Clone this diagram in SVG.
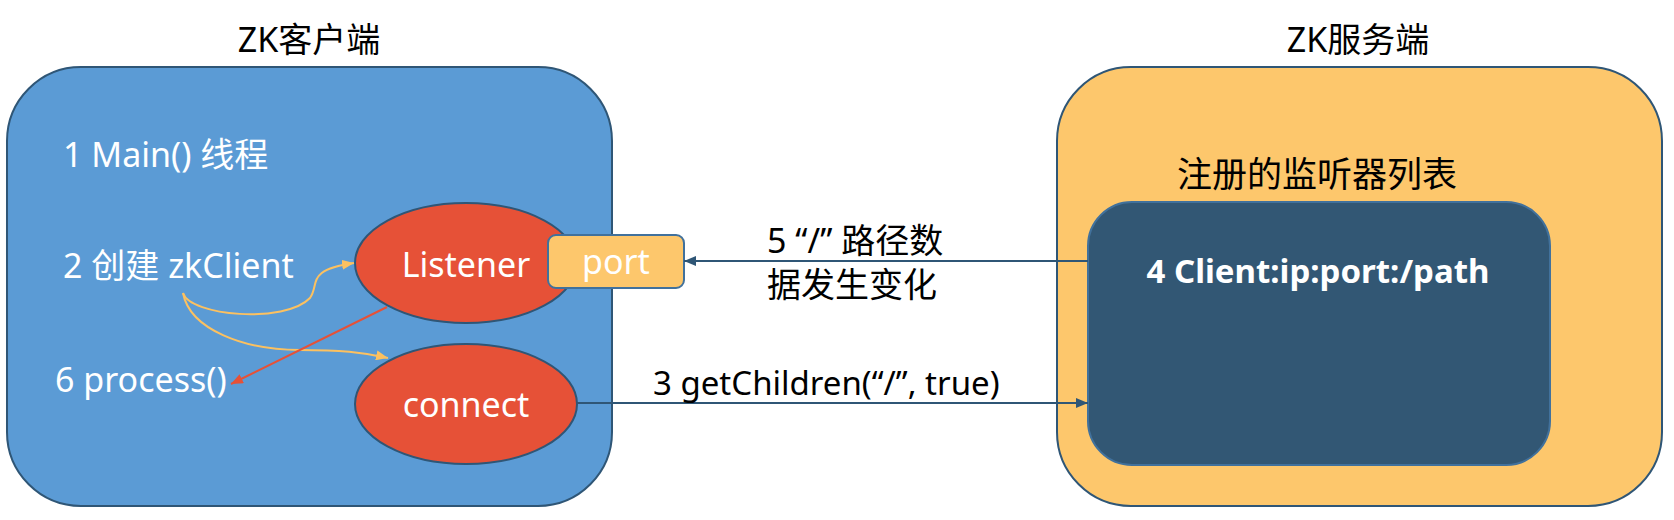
<svg xmlns="http://www.w3.org/2000/svg" width="1674" height="520" viewBox="0 0 1674 520">
<style>
text{font-family:"Noto Sans","Noto Sans CJK SC",sans-serif;font-size:34px}
.w{fill:#ffffff}
.k{fill:#000000}
.c{text-anchor:middle}
.ell{fill:#E65137;stroke:#2F5676;stroke-width:2}
.ln{fill:none;stroke:#2F5676;stroke-width:2}
.yc{fill:none;stroke:#FCC160;stroke-width:2}
.rc{fill:none;stroke:#E65137;stroke-width:2}
</style>
<defs>
<marker id="ab" viewBox="0 0 12 10" refX="12" refY="5" markerWidth="12" markerHeight="10" markerUnits="userSpaceOnUse" orient="auto"><path d="M0,0L12,5L0,10z" fill="#2F5676"/></marker>
<marker id="ay" viewBox="0 0 12 10" refX="12" refY="5" markerWidth="12" markerHeight="10" markerUnits="userSpaceOnUse" orient="auto"><path d="M0,0L12,5L0,10z" fill="#FCC160"/></marker>
<marker id="ar" viewBox="0 0 12 10" refX="12" refY="5" markerWidth="12" markerHeight="10" markerUnits="userSpaceOnUse" orient="auto"><path d="M0,0L12,5L0,10z" fill="#E65137"/></marker>
</defs>
<g id="client">
<text class="k c" x="309" y="52">ZK客户端</text>
<rect x="7" y="67" width="605" height="439" rx="74" fill="#5B9BD5" stroke="#2F5676" stroke-width="2"/>
<text class="w" x="63" y="167">1 Main() 线程</text>
<text class="w" x="63" y="278">2 创建 zkClient</text>
<text class="w" x="55" y="392">6 process()</text>
</g>
<g id="server">
<text class="k c" x="1358" y="52">ZK服务端</text>
<rect x="1057" y="67" width="605" height="439" rx="74" fill="#FDC76C" stroke="#2F5676" stroke-width="2"/>
<text class="k c" x="1317" y="187" style="font-size:35px">注册的监听器列表</text>
</g>
<g id="list">
<rect x="1088" y="202" width="462" height="263" rx="44" fill="#325774" stroke="#41719C" stroke-width="2"/>
<text class="w c" x="1318" y="283" style="font-weight:bold;font-size:33px">4 Client:ip:port:/path</text>
</g>
<g id="listener">
<ellipse class="ell" cx="466" cy="263" rx="111" ry="60"/>
<text class="w c" x="466" y="277">Listener</text>
</g>
<g id="port">
<rect x="548" y="235" width="136" height="53" rx="8" fill="#FDC76C" stroke="#41719C" stroke-width="2"/>
<text class="w c" x="616" y="274">port</text>
</g>
<g id="connect">
<ellipse class="ell" cx="466" cy="404" rx="111" ry="60"/>
<text class="w c" x="466" y="417">connect</text>
</g>
<g id="connectors">
<line class="ln" x1="1088" y1="261" x2="684" y2="261" marker-end="url(#ab)"/>
<line class="ln" x1="577" y1="403" x2="1088" y2="403" marker-end="url(#ab)"/>
<path class="yc" d="M183,293 C190,316 285,324 310,298 C320,284 305,270 354,263" marker-end="url(#ay)"/>
<path class="yc" d="M183,293 C190,330 245,350 300,350 C340,350 362,352 388,358" marker-end="url(#ay)"/>
<line class="rc" x1="387" y1="307" x2="231" y2="384" marker-end="url(#ar)"/>
<text class="k" x="767" y="253">5 “/” 路径数</text>
<text class="k" x="767" y="297">据发生变化</text>
<text class="k" x="653" y="395" style="font-size:33px">3 getChildren(“/”, true)</text>
</g>
</svg>
